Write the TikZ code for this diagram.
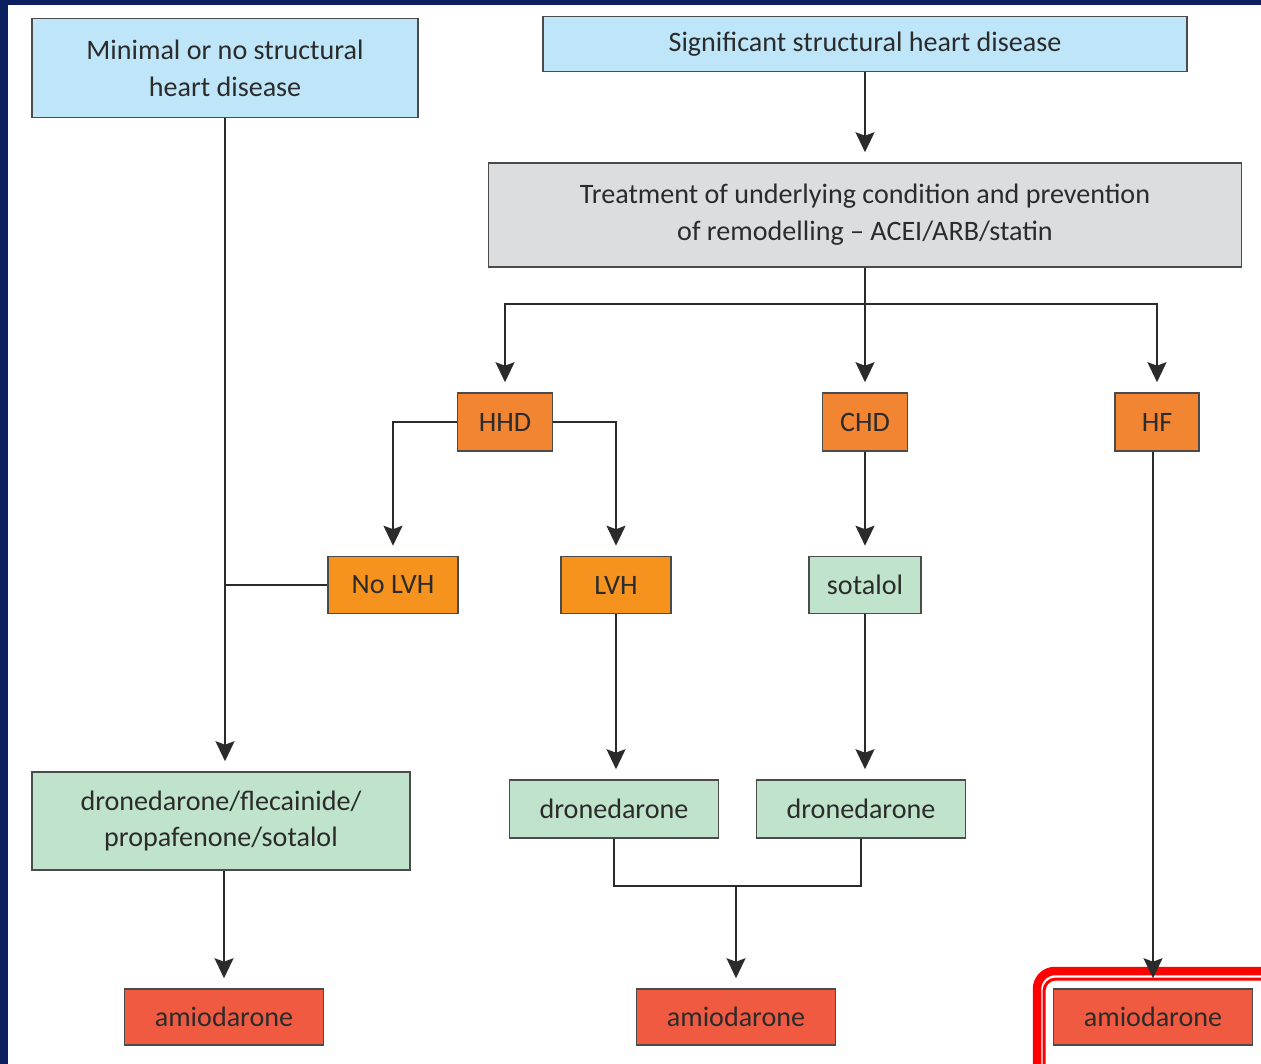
\documentclass[tikz,border=0pt]{standalone}
\usepackage{fontspec}
\setmainfont{Carlito}
\usetikzlibrary{arrows.meta}
\definecolor{navy}{HTML}{0C1F5E}
\definecolor{boxblue}{HTML}{BEE5F8}
\definecolor{boxgray}{HTML}{DCDDDE}
\definecolor{boxorange}{HTML}{F28532}
\definecolor{boxamber}{HTML}{F6921E}
\definecolor{boxgreen}{HTML}{C0E3CB}
\definecolor{boxred}{HTML}{F05A40}
\definecolor{ink}{HTML}{2B2B2B}
\begin{document}
\begin{tikzpicture}[x=0.02cm,y=-0.02cm,
  every node/.style={font=\fontsize{16}{21}\selectfont,text=ink,align=center},
  box/.style={draw=ink!85,line width=0.9pt,inner sep=0pt},
  line/.style={draw=ink,line width=1.1pt},
  arr/.style={line,-{Stealth[length=0.4cm,width=0.38cm,inset=0.07cm]},shorten >=0.2cm}]
 \useasboundingbox (0,0) rectangle (1261,1064);
 \clip (0,0) rectangle (1261,1064);
 \fill[navy] (0,0) rectangle (1261,1064);
 \fill[white] (8,5) rectangle (1261,1064);
 % boxes
 \node[box,fill=boxblue,minimum width=7.72cm,minimum height=1.98cm] (minimal) at (225,68) {Minimal or no structural\\heart disease};
 \node[box,fill=boxblue,minimum width=12.88cm,minimum height=1.10cm] (signif) at (865,44) {Significant structural heart disease};
 \node[box,fill=boxgray,minimum width=15.06cm,minimum height=2.08cm] (treat) at (865,215) {Treatment of underlying condition and prevention\\of remodelling -- ACEI/ARB/statin};
 \node[box,fill=boxorange,minimum width=1.90cm,minimum height=1.16cm] (hhd) at (505,422) {HHD};
 \node[box,fill=boxorange,minimum width=1.70cm,minimum height=1.16cm] (chd) at (865,422) {CHD};
 \node[box,fill=boxorange,minimum width=1.68cm,minimum height=1.16cm] (hf) at (1157,422) {HF};
 \node[box,fill=boxamber,minimum width=2.60cm,minimum height=1.14cm] (nolvh) at (393,585) {No LVH};
 \node[box,fill=boxamber,minimum width=2.20cm,minimum height=1.14cm] (lvh) at (616,585) {LVH};
 \node[box,fill=boxgreen,minimum width=2.24cm,minimum height=1.14cm] (sotalol) at (865,585) {sotalol};
 \node[box,fill=boxgreen,minimum width=7.56cm,minimum height=1.96cm] (drugs) at (221,821) {dronedarone/flecainide/\\propafenone/sotalol};
 \node[box,fill=boxgreen,minimum width=4.18cm,minimum height=1.16cm] (drona) at (614,809) {dronedarone};
 \node[box,fill=boxgreen,minimum width=4.18cm,minimum height=1.16cm] (dronb) at (861,809) {dronedarone};
 \node[box,fill=boxred,minimum width=3.98cm,minimum height=1.12cm] (amioa) at (224,1017) {amiodarone};
 \node[box,fill=boxred,minimum width=3.98cm,minimum height=1.12cm] (amiob) at (736,1017) {amiodarone};
 \node[box,fill=boxred,minimum width=3.98cm,minimum height=1.12cm] (amioc) at (1153,1017) {amiodarone};
 % highlight
 \draw[red,line width=0.17cm,rounded corners=0.36cm] (1037,971) rectangle (1290,1090);
 \draw[red,line width=0.06cm,rounded corners=0.24cm] (1044,979) rectangle (1290,1090);
 % connectors
 \coordinate (split) at (865,304);
 \coordinate (merge) at (736,886);
 \draw[arr] (minimal.south) -- (minimal.south |- drugs.north);
 \draw[line] (nolvh.west) -- (nolvh.west -| minimal.south);
 \draw[arr] (signif) -- (treat);
 \draw[line] (treat.south) -- (split);
 \draw[arr] (split) -| (hhd);
 \draw[arr] (split) -- (chd);
 \draw[arr] (split) -| (hf);
 \draw[arr] (hhd.west) -| (nolvh);
 \draw[arr] (hhd.east) -| (lvh);
 \draw[arr] (chd) -- (sotalol);
 \draw[arr] (lvh.south) -- (lvh.south |- drona.north);
 \draw[arr] (sotalol.south) -- (sotalol.south |- dronb.north);
 \draw[arr] (amioc.north |- hf.south) -- (amioc.north);
 \draw[arr] (drugs.south -| amioa.north) -- (amioa.north);
 \draw[line] (drona.south) |- (merge) -| (dronb.south);
 \draw[arr] (merge) -- (amiob);
\end{tikzpicture}
\end{document}
